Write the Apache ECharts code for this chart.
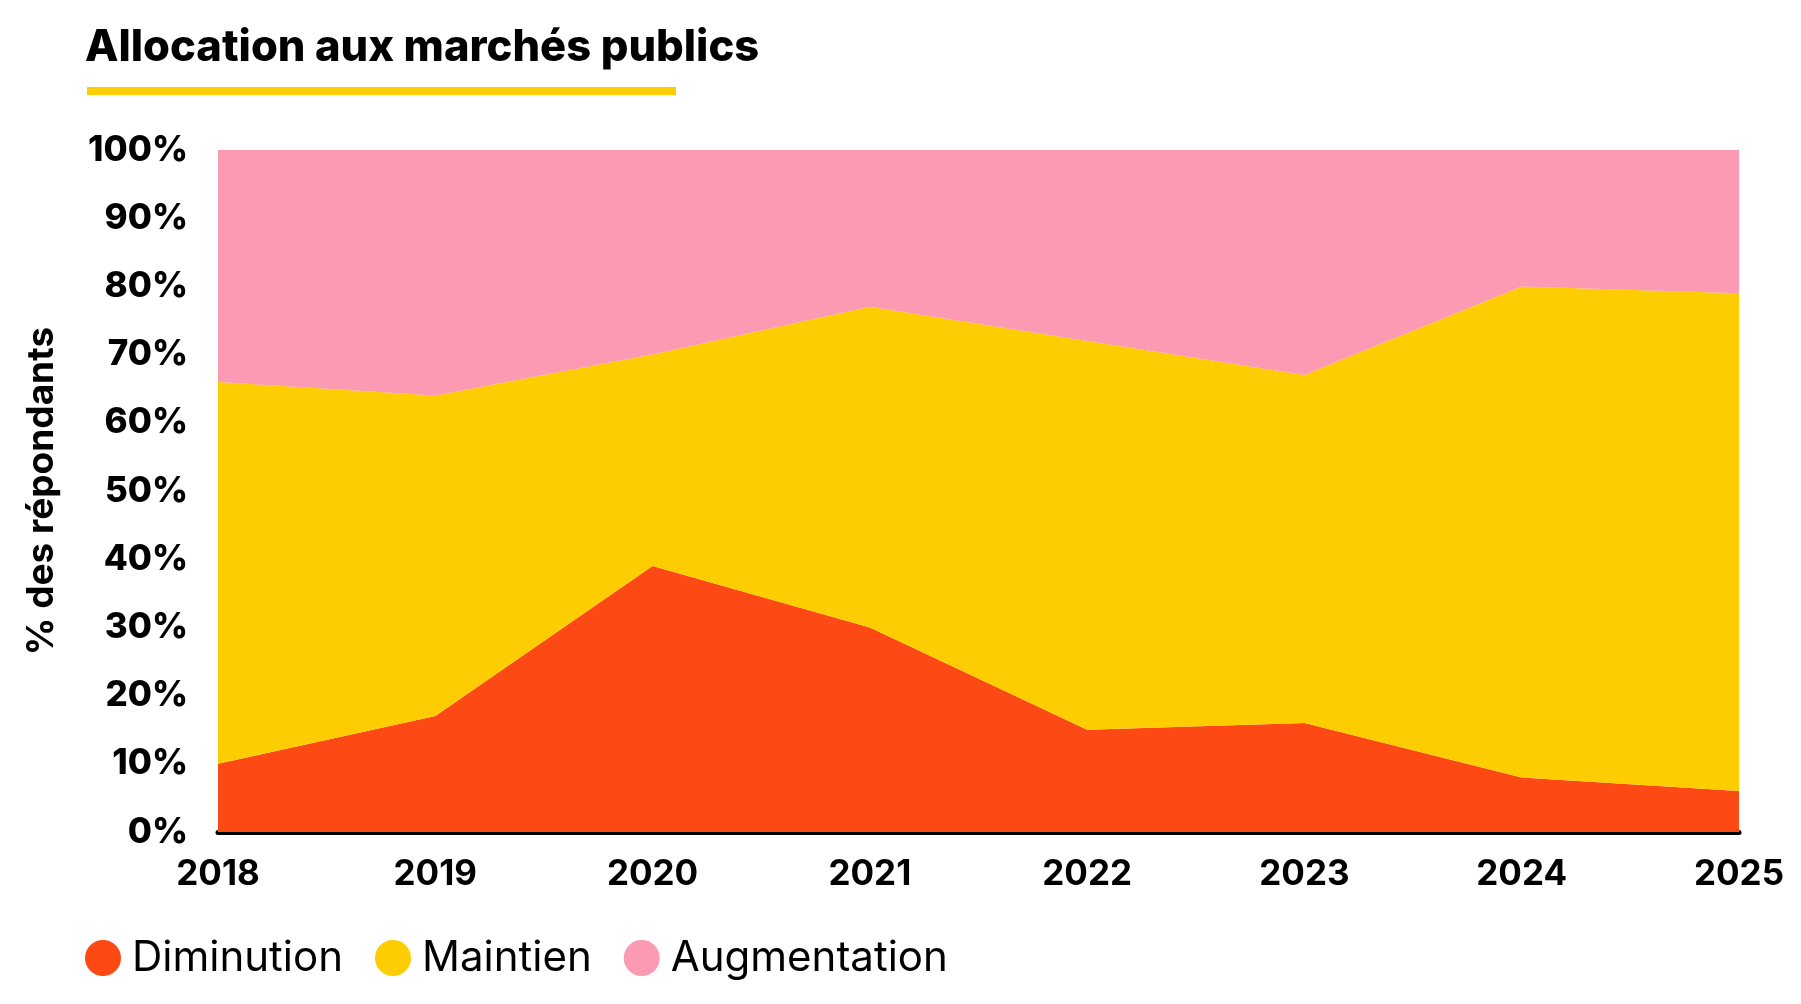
<!DOCTYPE html>
<html>
<head>
<meta charset="utf-8">
<script src="https://cdn.jsdelivr.net/npm/echarts@6/dist/echarts.min.js"></script>
<style>
html,body{margin:0;padding:0;background:#fff;}
#chart{width:1801px;height:1004px;}
</style>
</head>
<body>
<div id="chart"></div>
<script>
const years = ['2018','2019','2020','2021','2022','2023','2024','2025'];
const diminution = [10, 17, 39, 30, 15, 16, 8, 6];
const maintien = [56, 47, 31, 47, 57, 51, 72, 73];
const augmentation = [34, 36, 30, 23, 28, 33, 20, 21];
const seriesNames = ['Diminution', 'Maintien', 'Augmentation'];
const colors = ['#FD4A15', '#FDCD02', '#FC9AB3'];

const FONT = 'Inter, "Noto Sans", sans-serif';
const chart = echarts.init(document.getElementById('chart'), null, {renderer: 'canvas'});

function areaSeries(name, data, color) {
  return {
    name: name,
    type: 'line',
    stack: 'total',
    data: data,
    symbol: 'none',
    showSymbol: false,
    lineStyle: {width: 0},
    areaStyle: {color: color, opacity: 1},
    itemStyle: {color: color},
    emphasis: {disabled: true}
  };
}

chart.setOption({
  animation: false,
  backgroundColor: '#fff',
  title: {
    text: 'Allocation aux marchés publics',
    left: 80,
    top: 21,
    textStyle: {fontFamily: FONT, fontWeight: 800, fontSize: 43.5, color: '#000'}
  },
  graphic: [{
    type: 'rect',
    left: 87, top: 87,
    shape: {width: 589, height: 8},
    style: {fill: '#FDCD02'}
  }],
  legend: {
    left: 80,
    top: 932,
    icon: 'circle',
    itemWidth: 36,
    itemHeight: 36,
    itemGap: 32,
    data: seriesNames,
    textStyle: {fontFamily: FONT, fontSize: 42, fontWeight: 400, color: '#000', padding: [0, 0, 0, 6]}
  },
  grid: {left: 218, right: 62, top: 150, bottom: 172, containLabel: false},
  xAxis: {
    type: 'category',
    data: years,
    boundaryGap: false,
    axisLine: {show: true, lineStyle: {color: '#000', width: 5}},
    axisTick: {show: false},
    splitLine: {show: false},
    axisLabel: {fontFamily: FONT, fontWeight: 700, fontSize: 35, color: '#000', margin: 25}
  },
  yAxis: {
    type: 'value',
    min: 0, max: 100, interval: 10,
    name: '% des répondants',
    nameLocation: 'middle',
    nameRotate: 90,
    nameGap: 158,
    nameTextStyle: {fontFamily: FONT, fontWeight: 700, fontSize: 37, color: '#000'},
    axisLine: {show: false},
    axisTick: {show: false},
    splitLine: {show: false},
    axisLabel: {fontFamily: FONT, fontWeight: 800, fontSize: 35, color: '#000', margin: 30, formatter: '{value}%'}
  },
  series: [
    areaSeries(seriesNames[0], diminution, colors[0]),
    areaSeries(seriesNames[1], maintien, colors[1]),
    areaSeries(seriesNames[2], augmentation, colors[2])
  ]
});
</script>
</body>
</html>
